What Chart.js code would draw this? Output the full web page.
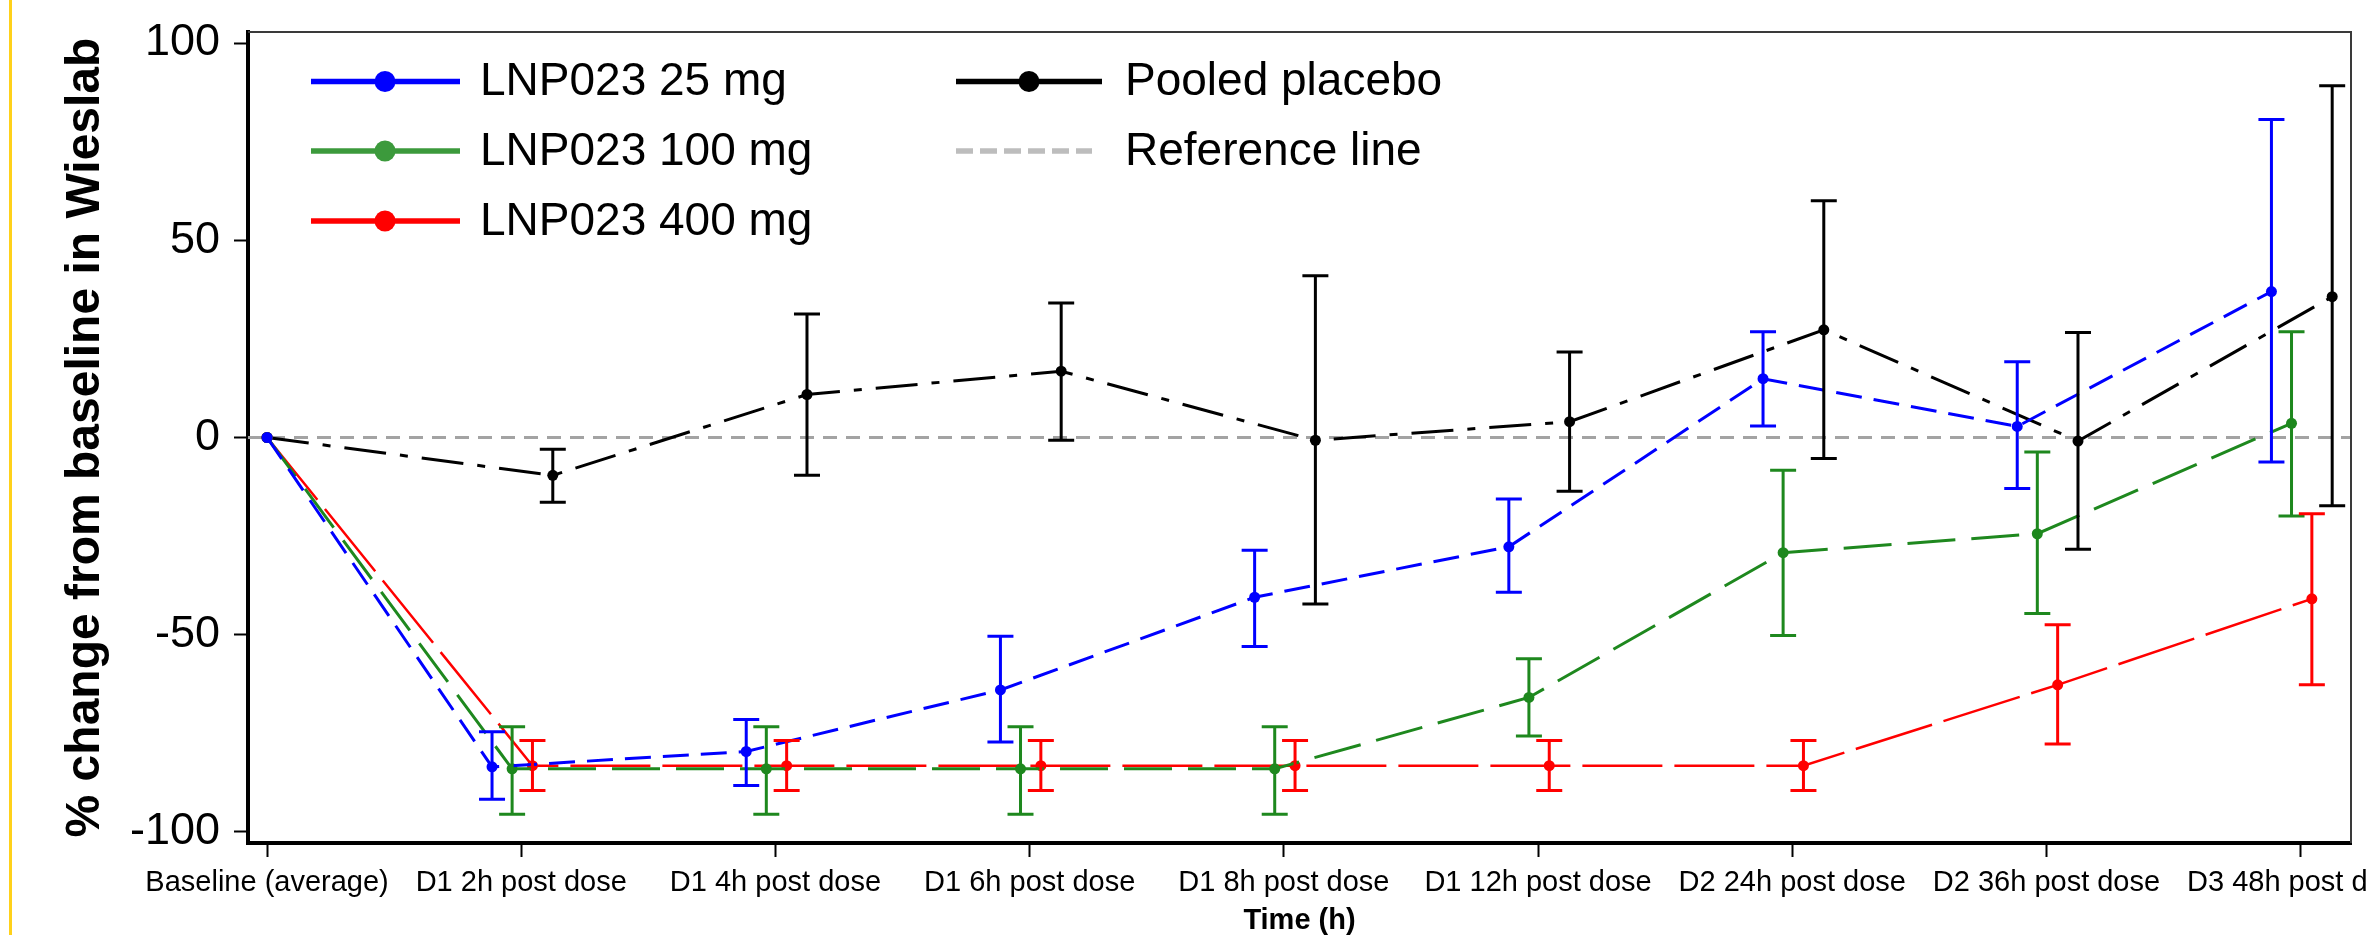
<!DOCTYPE html>
<html>
<head>
<meta charset="utf-8">
<script src="https://cdn.jsdelivr.net/npm/chart.js@4.4.1/dist/chart.umd.min.js"></script>
<style>
  html, body { margin: 0; padding: 0; background: #fff; overflow: hidden; }
  #wrap { position: absolute; left: 0; top: 0; width: 2420px; height: 935px; }
  #edge { position: absolute; left: 9px; top: 0; width: 3px; height: 935px; background: #ffd11a; z-index: 2; }
</style>
</head>
<body>
<div id="edge"></div>
<div id="wrap"><canvas id="chart"></canvas></div>
<script>
// --- Data ---
const categories = [
  'Baseline (average)', 'D1 2h post dose', 'D1 4h post dose', 'D1 6h post dose',
  'D1 8h post dose', 'D1 12h post dose', 'D2 24h post dose', 'D2 36h post dose',
  'D3 48h post dose'
];
const yTicks      = [-100, -50, 0, 50, 100];
const refLineY    = 0;

const mean25  = [0, -83.5, -79.6, -64.0, -40.5, -27.7, 14.9, 2.8, 37.0];
const lo25    = [null, -91.7, -88.2, -77.2, -53.0, -39.2, 2.9, -12.9, -6.2];
const hi25    = [null, -74.6, -71.5, -50.4, -28.6, -15.6, 26.8, 19.2, 80.6];

const mean100 = [0, -84.0, -84.0, -84.0, -84.0, -65.9, -29.2, -24.4, 3.6];
const lo100   = [null, -95.5, -95.5, -95.5, -95.5, -75.7, -50.2, -44.6, -19.9];
const hi100   = [null, -73.3, -73.3, -73.3, -73.3, -56.1, -8.3, -3.7, 26.8];

const mean400 = [0, -83.2, -83.2, -83.2, -83.2, -83.2, -83.2, -62.7, -40.9];
const lo400   = [null, -89.5, -89.5, -89.5, -89.5, -89.5, -89.5, -77.7, -62.7];
const hi400   = [null, -76.8, -76.8, -76.8, -76.8, -76.8, -76.8, -47.5, -19.3];

const meanPbo = [0, -9.6, 10.9, 16.8, -0.7, 4.0, 27.3, -0.9, 35.7];
const loPbo   = [null, -16.4, -9.6, -0.7, -42.2, -13.6, -5.3, -28.3, -17.3];
const hiPbo   = [null, -3.0, 31.3, 34.1, 41.0, 21.7, 60.0, 26.6, 89.2];

// --- Style ---
const FONT = "'Liberation Sans', Arial, sans-serif";
Chart.defaults.font.family = FONT;
Chart.defaults.color = '#000';

function series(label, mean, lo, hi, st) {
  return {
    label,
    data: mean.map((v, i) => ({ x: i + (i === 0 ? 0 : st.shift), y: v })),
    lo, hi,
    legendColor: st.legend,
    borderColor: st.color,
    backgroundColor: st.color,
    borderWidth: st.width,
    borderDash: st.dash,
    pointRadius: 5.5,
    pointHoverRadius: 5.5,
    pointBorderWidth: 0,
    tension: 0,
    fill: false,
  };
}

const datasets = [
  series('LNP023 25 mg',  mean25,  lo25,  hi25,  { color: '#0000ff', legend: '#0000ff', width: 3,   dash: [26, 12], shift: -0.115 }),
  series('LNP023 100 mg', mean100, lo100, hi100, { color: '#1e881e', legend: '#3c9a3c', width: 3,   dash: [48, 16], shift: -0.036 }),
  series('LNP023 400 mg', mean400, lo400, hi400, { color: '#ff0000', legend: '#ff0000', width: 2.5, dash: [80, 12], shift: 0.044 }),
  series('Pooled placebo', meanPbo, loPbo, hiPbo, { color: '#000000', legend: '#000000', width: 3,  dash: [42, 14, 8, 14], shift: 0.124 }),
];

// --- Plugins ---
const refLine = {
  id: 'refLine',
  beforeDatasetsDraw(chart) {
    const { ctx, chartArea: a, scales: { y } } = chart;
    const py = y.getPixelForValue(refLineY);
    ctx.save();
    ctx.strokeStyle = '#a3a3a3';
    ctx.lineWidth = 3;
    ctx.setLineDash([14, 9]);
    ctx.beginPath();
    ctx.moveTo(a.left, py);
    ctx.lineTo(a.right, py);
    ctx.stroke();
    ctx.restore();
  }
};

const errorBars = {
  id: 'errorBars',
  afterDatasetsDraw(chart) {
    const { ctx, scales: { x, y } } = chart;
    chart.data.datasets.forEach(ds => {
      ds.data.forEach((p, i) => {
        if (ds.lo[i] == null) return;
        const px  = x.getPixelForValue(p.x);
        const top = y.getPixelForValue(ds.hi[i]);
        const bot = y.getPixelForValue(ds.lo[i]);
        ctx.save();
        ctx.strokeStyle = ds.borderColor;
        ctx.lineWidth = 3;
        ctx.setLineDash([]);
        ctx.beginPath();
        ctx.moveTo(px, top); ctx.lineTo(px, bot);
        ctx.moveTo(px - 13, top); ctx.lineTo(px + 13, top);
        ctx.moveTo(px - 13, bot); ctx.lineTo(px + 13, bot);
        ctx.stroke();
        ctx.restore();
      });
    });
  }
};

const frame = {
  id: 'frame',
  afterDraw(chart) {
    const { ctx, chartArea: a } = chart;
    ctx.save();
    ctx.strokeStyle = '#3a3a3a';
    ctx.lineWidth = 2;
    ctx.beginPath();
    ctx.moveTo(a.left, a.top);
    ctx.lineTo(a.right, a.top);
    ctx.lineTo(a.right, a.bottom);
    ctx.stroke();
    ctx.restore();
  }
};

// legend: two columns, line + marker + label
const legendCols = [
  { x0: 311, x1: 460, mx: 385, tx: 480 },
  { x0: 956, x1: 1102, mx: 1029, tx: 1125 },
];
const legendRows = [81.5, 151, 221];

const legendBox = {
  id: 'legendBox',
  afterDraw(chart) {
    const { ctx } = chart;
    const ds = chart.data.datasets;
    const items = [
      { col: 0, row: 0, label: ds[0].label, color: ds[0].legendColor },
      { col: 0, row: 1, label: ds[1].label, color: ds[1].legendColor },
      { col: 0, row: 2, label: ds[2].label, color: ds[2].legendColor },
      { col: 1, row: 0, label: ds[3].label, color: ds[3].legendColor },
      { col: 1, row: 1, label: 'Reference line', color: '#bdbdbd', ref: true },
    ];
    ctx.save();
    items.forEach(it => {
      const c = legendCols[it.col];
      const y = legendRows[it.row];
      ctx.strokeStyle = it.color;
      ctx.lineWidth = 5.5;
      ctx.setLineDash(it.ref ? [17, 7] : []);
      ctx.beginPath();
      ctx.moveTo(c.x0, y);
      ctx.lineTo(it.ref ? c.x1 - 10 : c.x1, y);
      ctx.stroke();
      if (!it.ref) {
        ctx.fillStyle = it.color;
        ctx.beginPath();
        ctx.arc(c.mx, y, 10.5, 0, Math.PI * 2);
        ctx.fill();
      }
      ctx.fillStyle = '#000';
      ctx.font = '46px ' + FONT;
      ctx.textBaseline = 'middle';
      ctx.textAlign = 'left';
      ctx.fillText(it.label, c.tx, y + 1);
    });
    ctx.restore();
  }
};

// --- Chart ---
new Chart(document.getElementById('chart'), {
  type: 'line',
  data: { datasets },
  plugins: [refLine, errorBars, frame, legendBox],
  options: {
    animation: false,
    responsive: true,
    maintainAspectRatio: false,
    layout: { padding: { top: 32, right: 69, bottom: 0, left: 0 } },
    plugins: { legend: { display: false }, tooltip: { enabled: false } },
    scales: {
      x: {
        type: 'linear',
        min: -0.075,
        max: 8.198,
        afterBuildTicks: s => { s.ticks = categories.map((_, i) => ({ value: i })); },
        afterFit: s => { s.height = 92; s.paddingLeft = 0; s.paddingRight = 0; },
        ticks: {
          callback: v => categories[v],
          font: { size: 29 },
          color: '#000',
          padding: 9,
          maxRotation: 0,
          autoSkip: false,
        },
        grid: { drawOnChartArea: false, tickLength: 14, tickColor: '#000', tickWidth: 2 },
        border: { color: '#000', width: 4 },
        title: {
          display: true,
          text: 'Time (h)',
          color: '#000',
          font: { size: 29, weight: 'bold', lineHeight: 1 },
          padding: { top: 0, bottom: 0 },
        },
      },
      y: {
        min: -102.8,
        max: 102.8,
        afterBuildTicks: s => { s.ticks = yTicks.map(v => ({ value: v })); },
        afterFit: s => { s.width = 248; s.paddingTop = 0; s.paddingBottom = 0; },
        ticks: { font: { size: 45 }, color: '#000', padding: 14 },
        grid: { drawOnChartArea: false, tickLength: 14, tickColor: '#000', tickWidth: 2 },
        border: { color: '#000', width: 4 },
        title: {
          display: true,
          text: '% change from baseline in Wieslab',
          color: '#000',
          font: { size: 48, weight: 'bold', lineHeight: 1 },
          padding: { top: 62, bottom: 0 },
        },
      },
    },
  },
});
</script>
</body>
</html>
